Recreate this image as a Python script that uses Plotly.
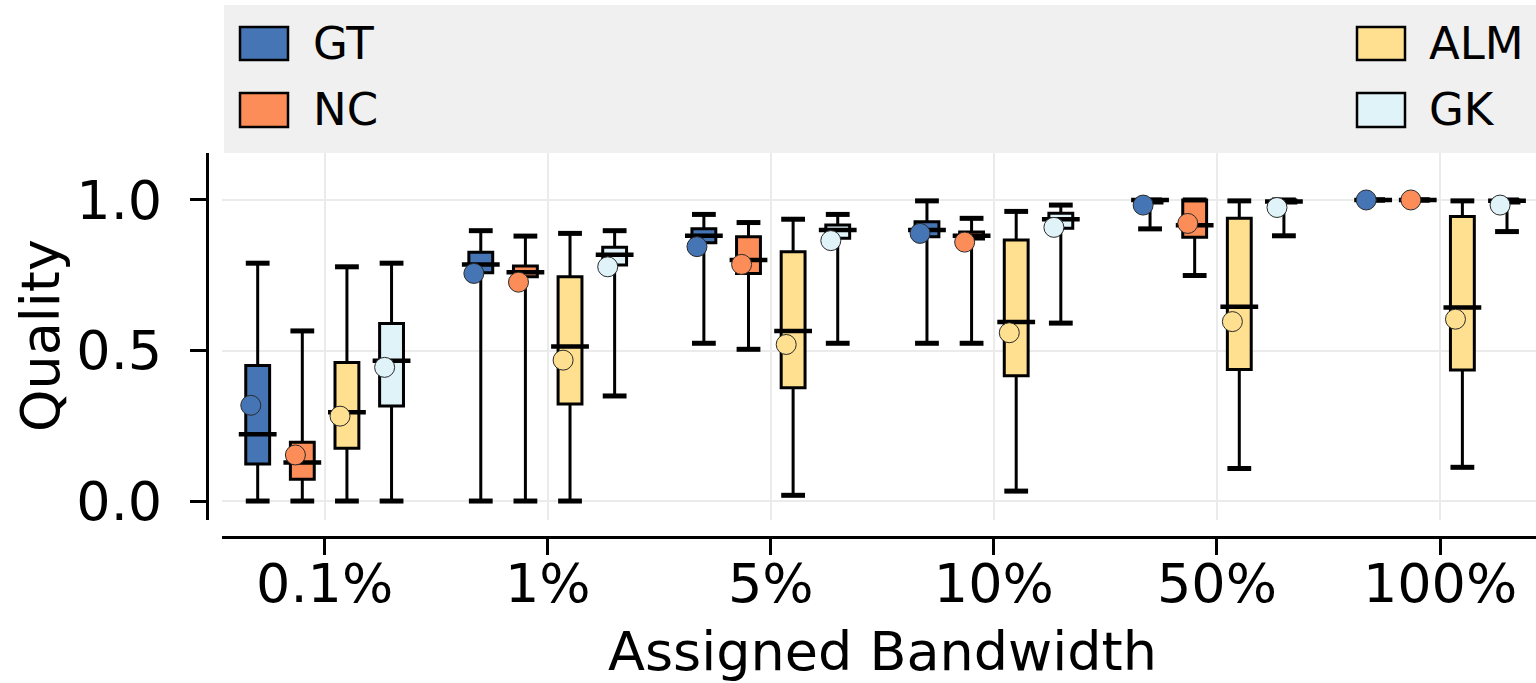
import plotly.graph_objects as go

categories = ["0.1%", "1%", "5%", "10%", "50%", "100%"]
methods = ["GT", "NC", "ALM", "GK"]
colors = ["#4575b4", "#fc8d59", "#fee090", "#e0f3f8"]

gt_lower = [0.0, 0.0, 0.524, 0.524, 0.904, 1.0]
gt_q1 = [0.123, 0.758, 0.858, 0.878, 0.99, 1.0]
gt_median = [0.222, 0.786, 0.881, 0.900, 1.0, 1.0]
gt_q3 = [0.450, 0.826, 0.904, 0.928, 1.0, 1.0]
gt_upper = [0.790, 0.898, 0.952, 0.997, 1.0, 1.0]
gt_mean = [0.318, 0.756, 0.845, 0.889, 0.983, 1.0]

nc_lower = [0.0, 0.0, 0.504, 0.524, 0.749, 1.0]
nc_q1 = [0.072, 0.745, 0.756, 0.870, 0.876, 1.0]
nc_median = [0.128, 0.760, 0.801, 0.881, 0.916, 1.0]
nc_q3 = [0.195, 0.781, 0.878, 0.894, 1.0, 1.0]
nc_upper = [0.565, 0.880, 0.925, 0.939, 1.0, 1.0]
nc_mean = [0.153, 0.727, 0.786, 0.860, 0.922, 1.0]

alm_lower = [0.0, 0.0, 0.019, 0.033, 0.108, 0.112]
alm_q1 = [0.175, 0.322, 0.376, 0.416, 0.437, 0.435]
alm_median = [0.295, 0.513, 0.565, 0.595, 0.645, 0.643]
alm_q3 = [0.460, 0.745, 0.828, 0.867, 0.939, 0.945]
alm_upper = [0.778, 0.889, 0.936, 0.962, 0.997, 0.997]
alm_mean = [0.282, 0.468, 0.520, 0.559, 0.596, 0.604]

gk_lower = [0.0, 0.349, 0.524, 0.591, 0.881, 0.895]
gk_q1 = [0.316, 0.784, 0.873, 0.906, 0.99, 0.99]
gk_median = [0.466, 0.818, 0.900, 0.936, 0.995, 0.997]
gk_q3 = [0.590, 0.843, 0.917, 0.956, 1.0, 1.0]
gk_upper = [0.790, 0.898, 0.952, 0.983, 1.0, 1.0]
gk_mean = [0.444, 0.778, 0.865, 0.909, 0.975, 0.983]

stats = [
    (gt_lower, gt_q1, gt_median, gt_q3, gt_upper, gt_mean),
    (nc_lower, nc_q1, nc_median, nc_q3, nc_upper, nc_mean),
    (alm_lower, alm_q1, alm_median, alm_q3, alm_upper, alm_mean),
    (gk_lower, gk_q1, gk_median, gk_q3, gk_upper, gk_mean),
]

W, H = 1536, 683
L, R, T, B = 207, 0, 153, 146
PW, PH = W - L - R, H - T - B
FONT = "DejaVu Sans"

def px2x(px):
    return (px - L) / PW

def px2y(py):
    return (H - B - py) / PH

group_offsets = [-0.3, -0.1, 0.1, 0.3]
mean_shift = -0.031

fig = go.Figure()
for m, c, off, (lo, q1, med, q3, up, mean) in zip(methods, colors, group_offsets, stats):
    xs = [i + off for i in range(len(categories))]
    fig.add_trace(go.Box(
        x=xs, q1=q1, median=med, q3=q3, lowerfence=lo, upperfence=up,
        width=0.107, whiskerwidth=0.65, fillcolor=c,
        line=dict(color="black", width=3), boxpoints=False,
        name=m, showlegend=False, hoverinfo="skip",
    ))
    # whisker caps (thicker, as in the reference)
    fig.add_trace(go.Scatter(
        x=xs + xs, y=lo + up, mode="markers",
        marker=dict(symbol="line-ew", size=17, line=dict(color="black", width=5)),
        showlegend=False, hoverinfo="skip",
    ))
    # median lines (thicker and slightly wider than the box)
    fig.add_trace(go.Scatter(
        x=xs, y=med, mode="markers",
        marker=dict(symbol="line-ew", size=27, line=dict(color="black", width=4.5)),
        showlegend=False, hoverinfo="skip",
    ))
for m, c, off, (lo, q1, med, q3, up, mean) in zip(methods, colors, group_offsets, stats):
    xs = [i + off + mean_shift for i in range(len(categories))]
    fig.add_trace(go.Scatter(
        x=xs, y=mean, mode="markers",
        marker=dict(size=20, color=c, line=dict(color="#2a2a2a", width=1)),
        name=m + " mean", showlegend=False,
    ))

shapes = [dict(type="rect", xref="paper", yref="paper",
               x0=px2x(224), x1=px2x(1545), y0=px2y(153), y1=px2y(5),
               fillcolor="#f0f0f0", line=dict(width=0), layer="below")]
annotations = []
legend_pos = [(240, 288, 27, 60, 311), (240, 288, 93, 127, 311),
              (1357, 1405, 27, 60, 1427), (1357, 1405, 93, 127, 1427)]
for m, c, (x0, x1, y0, y1, tx) in zip(methods, colors, legend_pos):
    shapes.append(dict(type="rect", xref="paper", yref="paper",
                       x0=px2x(x0), x1=px2x(x1), y0=px2y(y1), y1=px2y(y0),
                       fillcolor=c, line=dict(color="black", width=2.5)))
    annotations.append(dict(xref="paper", yref="paper", x=px2x(tx), y=px2y((y0 + y1) / 2),
                            text=m, showarrow=False, xanchor="left", yanchor="middle",
                            font=dict(family=FONT, size=45, color="black")))

# axis titles
annotations.append(dict(xref="paper", yref="paper", x=px2x(882), y=px2y(651),
                        text="Assigned Bandwidth", showarrow=False,
                        xanchor="center", yanchor="middle",
                        font=dict(family=FONT, size=54, color="black")))
annotations.append(dict(xref="paper", yref="paper", x=px2x(40), y=px2y(336),
                        text="Quality", showarrow=False, textangle=-90,
                        xanchor="center", yanchor="middle",
                        font=dict(family=FONT, size=54, color="black")))

fig.update_layout(
    width=W, height=H, margin=dict(l=L, r=R, t=T, b=B),
    paper_bgcolor="white", plot_bgcolor="white",
    font=dict(family=FONT, color="black"),
    shapes=shapes, annotations=annotations,
    xaxis=dict(range=[-0.46, 5.43], tickmode="array", tickvals=list(range(len(categories))),
               ticktext=categories, domain=[15 / PW, 1], anchor="free", position=0,
               showline=True, linecolor="black", linewidth=3, ticks="outside", ticklen=16,
               tickwidth=3, tickcolor="black", showgrid=True, gridcolor="#ebebeb", gridwidth=2,
               zeroline=False, tickfont=dict(size=54), ticklabelstandoff=-18),
    yaxis=dict(range=[-0.063, 1.156], tickmode="array", tickvals=[0, 0.5, 1.0],
               ticktext=["0.0", "0.5", "1.0"], domain=[17 / PH, 1], anchor="free", position=0,
               showline=True, linecolor="black", linewidth=3, ticks="outside", ticklen=16,
               tickwidth=3, tickcolor="black", showgrid=True, gridcolor="#ebebeb", gridwidth=2,
               zeroline=False, tickfont=dict(size=54), ticklabelstandoff=17),
)

fig.write_html("out.html", config={"displayModeBar": False},
               post_script="document.body.style.margin='0';")
